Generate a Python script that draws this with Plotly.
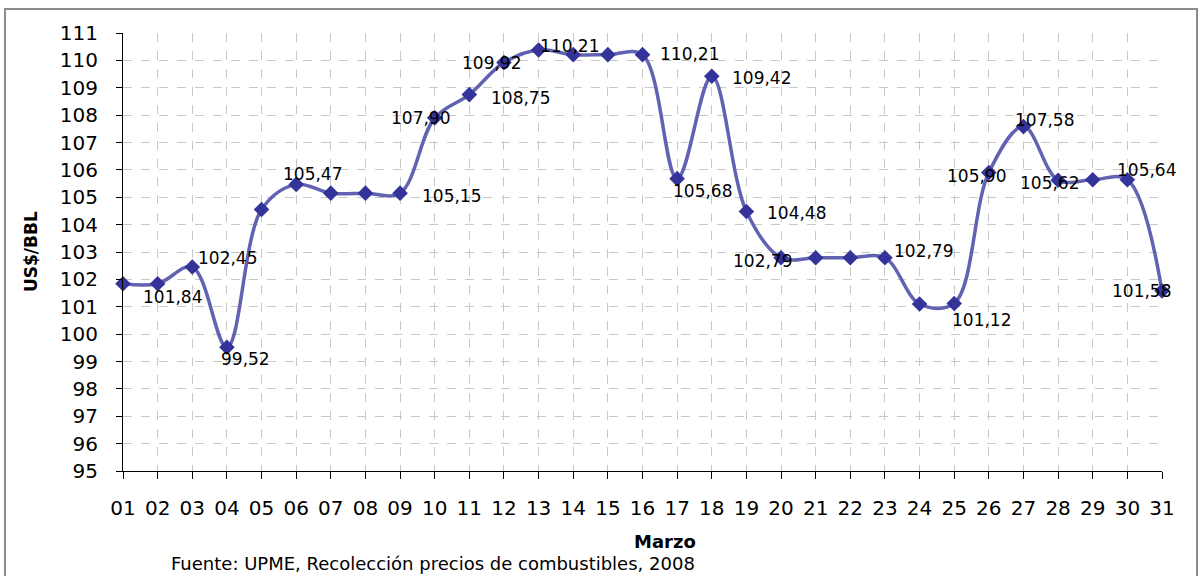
"""
Precio diario del crudo (US$/BBL), marzo 2008
Plotly smoothed line chart with diamond markers and data labels
"""
import plotly.graph_objects as go

# dias del mes y precios
days = list(range(1, 32))
day_labels = [f"{d:02d}" for d in days]
prices = [
    101.84, 101.84, 102.45, 99.52, 104.55, 105.47, 105.15, 105.15, 105.15, 107.90,
    108.75, 109.92, 110.38, 110.21, 110.21, 110.21, 105.68, 109.42, 104.48, 102.79,
    102.79, 102.79, 102.79, 101.10, 101.12, 105.90, 107.58, 105.62, 105.64, 105.64,
    101.58,
]
y_ticks = list(range(95, 112))

# which days get a value label, and where the label sits (pixel offset dx, dy)
label_offsets = {
    2: (15, 13), 3: (35, -9), 4: (19, 12), 6: (16, -10), 9: (51, 3),
    10: (-14, 0), 11: (51, 3), 12: (-12, 0), 14: (-4, -9), 16: (47, -1),
    17: (25, 12), 18: (50, 2), 19: (50, 2), 20: (-19, 3), 23: (39, -7),
    25: (27, 17), 26: (-12, 3), 27: (21, -7), 28: (-9, 3), 30: (19, -10),
    31: (-21, 0),
}

FONT = "DejaVu Sans"
fig = go.Figure()

fig.add_trace(go.Scatter(
    x=days,
    y=prices,
    mode='lines',
    line=dict(color='rgb(98, 98, 178)', width=3.5, shape='spline', smoothing=1.0),
    hoverinfo='skip',
    showlegend=False,
    cliponaxis=False,
))

fig.add_trace(go.Scatter(
    x=days,
    y=prices,
    mode='markers',
    marker=dict(symbol='diamond', size=12, color='rgb(51, 51, 153)'),
    hovertemplate='%{x}: %{y:.2f}<extra></extra>',
    showlegend=False,
    cliponaxis=False,
))

annotations = []
for d, (dx, dy) in label_offsets.items():
    v = prices[d - 1]
    annotations.append(dict(
        x=d, y=v, xref='x', yref='y',
        text=f"{v:.2f}".replace('.', ','),
        showarrow=False,
        xanchor='center', yanchor='middle',
        xshift=dx, yshift=-dy,
        font=dict(family=FONT, size=17, color='black'),
    ))

# axis titles and source note
annotations.append(dict(
    x=-0.0885, y=0.5, xref='paper', yref='paper',
    xanchor='center', yanchor='middle',
    text="<b>US$/BBL</b>", textangle=-90, showarrow=False,
    font=dict(family=FONT, size=17, color='black'),
))
annotations.append(dict(
    x=0.522, y=-0.162, xref='paper', yref='paper',
    xanchor='center', yanchor='middle',
    text="<b>Marzo</b>", showarrow=False,
    font=dict(family=FONT, size=18, color='black'),
))
annotations.append(dict(
    x=0.298, y=-0.212, xref='paper', yref='paper',
    xanchor='center', yanchor='middle',
    text="Fuente: UPME, Recolección precios de combustibles, 2008", showarrow=False,
    font=dict(family=FONT, size=18, color='black'),
))

fig.update_layout(
    width=1200,
    height=576,
    margin=dict(l=123, r=38, t=33, b=105),
    plot_bgcolor='white',
    paper_bgcolor='white',
    font=dict(family=FONT, color='black'),
    annotations=annotations,
    shapes=[dict(
        type='rect', xref='paper', yref='paper',
        x0=-0.1136, x1=1.0337, y0=1.0548, y1=-0.30,
        line=dict(color='rgb(140, 140, 140)', width=2),
    )],
    xaxis=dict(
        range=[1, 31],
        tickvals=days,
        ticktext=day_labels,
        tickfont=dict(size=20),
        ticks='outside', ticklen=7, tickcolor='black',
        ticklabelstandoff=12,
        showline=True, linecolor='black', linewidth=1,
        showgrid=True, gridcolor='rgb(200, 200, 200)', griddash='dash', gridwidth=1,
        zeroline=False,
    ),
    yaxis=dict(
        range=[95, 111],
        tickvals=y_ticks,
        tickfont=dict(size=20),
        ticks='outside', ticklen=6, tickcolor='black',
        ticklabelstandoff=14,
        showline=True, linecolor='black', linewidth=1,
        showgrid=True, gridcolor='rgb(200, 200, 200)', griddash='dash', gridwidth=1,
        zeroline=False,
    ),
)

fig.write_html(
    "out.html",
    config={'displayModeBar': False},
    post_script="document.body.style.margin='0';",
)
